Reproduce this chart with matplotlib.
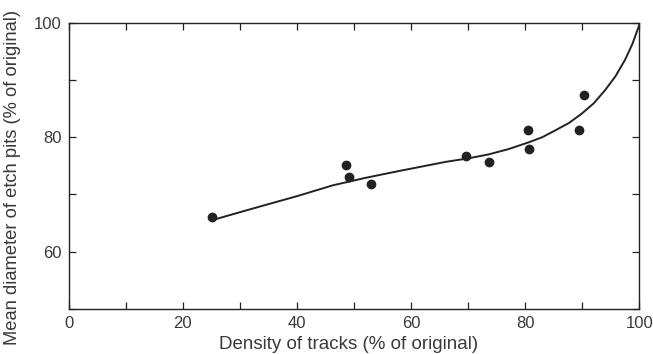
import matplotlib
matplotlib.use("Agg")
import matplotlib.pyplot as plt
from matplotlib.ticker import MultipleLocator

plt.rcParams["font.family"] = ["Liberation Sans", "DejaVu Sans"]

# measured points
density = [25.2, 48.6, 49.2, 53.0, 69.6, 73.6, 80.5, 80.6, 89.5, 90.3]
diameter = [66.0, 75.1, 73.0, 71.8, 76.7, 75.7, 81.2, 77.9, 81.3, 87.3]

# hand-drawn fitted curve
curve_x = [25.8, 30.0, 34.6, 40.0, 46.3, 52.0, 57.9, 62.0, 66.1, 70.0, 73.6,
           77.0, 80.6, 83.0, 85.3, 87.7, 89.9, 92.0, 94.0, 95.8, 97.5, 98.8, 100.0]
curve_y = [65.7, 66.9, 68.2, 69.7, 71.6, 72.9, 74.1, 74.9, 75.7, 76.3, 77.0,
           77.9, 79.1, 80.0, 81.2, 82.5, 84.1, 85.9, 88.2, 90.6, 93.5, 96.3, 99.6]

ink = "#222222"
txt = "#3a3a3a"

fig = plt.figure(figsize=(6.53, 3.54), dpi=100)
ax = fig.add_axes([0.105, 0.127, 0.874, 0.809])

ax.plot(curve_x, curve_y, color=ink, lw=1.4)
ax.plot(density, diameter, "o", color=ink, ms=6)

ax.set_xlim(0, 100)
ax.set_ylim(50, 100)
ax.xaxis.set_major_locator(MultipleLocator(20))
ax.xaxis.set_minor_locator(MultipleLocator(10))
ax.set_yticks([60, 80, 100])
ax.yaxis.set_minor_locator(MultipleLocator(10))

ax.tick_params(which="both", direction="in", top=True, right=True,
               color=ink, labelcolor=txt, labelsize=12, width=0.9)
ax.tick_params(which="major", length=5, pad=5)
ax.tick_params(which="minor", length=5)
for s in ax.spines.values():
    s.set_color(ink)
    s.set_linewidth(1.0)

ax.set_xlabel("Density of tracks (% of original)", fontsize=13.5, color=txt)
ax.set_ylabel("Mean diameter of etch pits (% of original)", fontsize=13.2, color=txt)
ax.xaxis.set_label_coords(0.49, -0.094)
ax.yaxis.set_label_coords(-0.083, 0.458)

fig.savefig("out.png", dpi=100)
